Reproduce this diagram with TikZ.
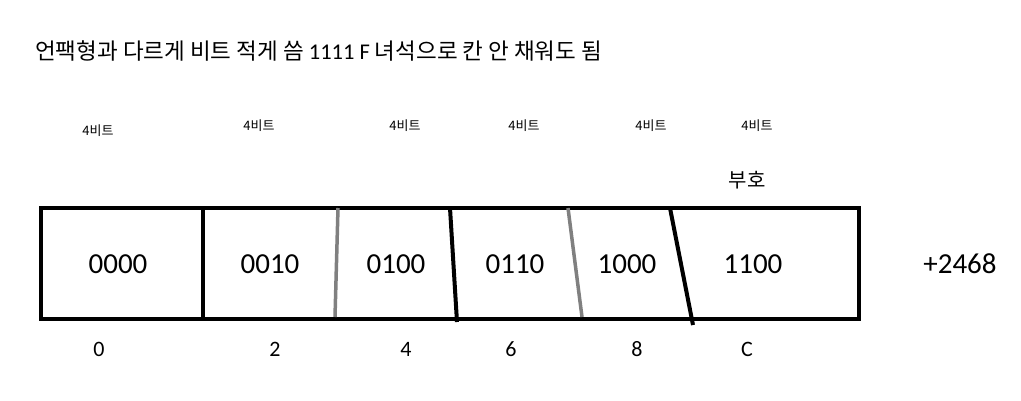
\documentclass[tikz,border=0pt]{standalone}
\usepackage{fontspec}
\setmainfont{Carlito}
\newfontfamily\kr{Noto Sans CJK KR}
\usepackage{tikz}

\tikzset{
    cellval/.style={font=\fontsize{29}{32}\selectfont},
    nibble/.style={font=\kr\fontsize{13}{15}\selectfont},
    digit/.style={font=\fontsize{22}{24}\selectfont}
}

\begin{document}
\begin{tikzpicture}[x=1pt, y=-1pt]
            \useasboundingbox (0,0) rectangle (1021,400);
            \node[right, inner sep=0pt, font=\fontsize{22.5}{26}\selectfont] (title) at (35,51) {{\kr 언팩형과 다르게 비트 적게 씀}\ 1111\ F\ {\kr 녀석으로 칸 안 채워도 됨}};

            % nibble sizes
            \node[nibble] (n0) at (98,131) {4비트};
            \node[nibble] (n1) at (259,126) {4비트};
            \node[nibble] (n2) at (405,126) {4비트};
            \node[nibble] (n3) at (524,126) {4비트};
            \node[nibble] (n4) at (651,126) {4비트};
            \node[nibble] (n5) at (757,126) {4비트};
            \node[font=\kr\fontsize{20}{22}\selectfont] (sign) at (747,180) {부호};

            % the packed word
            \draw[line width=4pt] (41,208) rectangle (859,319);
            \draw[line width=4pt] (203,208) -- (203,319);
            \draw[line width=3.5pt, gray] (338,208) -- (335,317);
            \draw[line width=4pt] (450,208) -- (457,322);
            \draw[line width=3.5pt, gray] (568,208) -- (582,317);
            \draw[line width=4pt] (670,208) -- (693,325);

            \node[cellval] (c0) at (118,264) {0000};
            \node[cellval] (c1) at (270,264) {0010};
            \node[cellval] (c2) at (396,264) {0100};
            \node[cellval] (c3) at (515,264) {0110};
            \node[cellval] (c4) at (627,264) {1000};
            \node[cellval] (c5) at (753,264) {1100};
            \node[cellval] (val) at (960,264) {+2468};

            % hex digits
            \node[digit] (h0) at (99,349) {0};
            \node[digit] (h1) at (275,349) {2};
            \node[digit] (h2) at (406,349) {4};
            \node[digit] (h3) at (511,349) {6};
            \node[digit] (h4) at (637,349) {8};
            \node[digit] (h5) at (747,349) {C};
        \end{tikzpicture}
\end{document}
